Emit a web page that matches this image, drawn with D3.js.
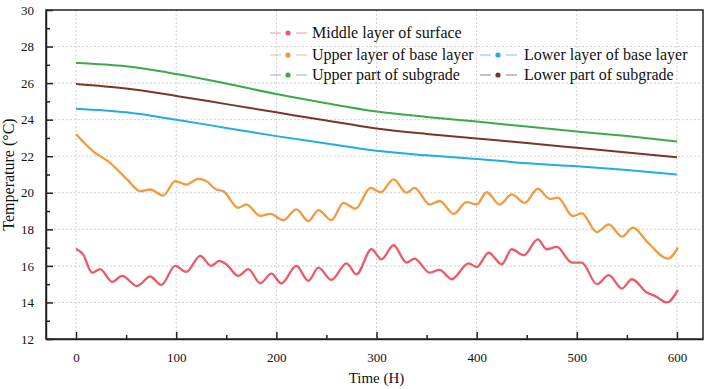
<!DOCTYPE html>
<html>
<head>
<meta charset="utf-8">
<script src="https://cdn.jsdelivr.net/npm/d3@7"></script>
<style>
  body { margin: 0; background: #fff; }
  svg text { font-family: "Liberation Serif", "Times New Roman", Times, serif !important; fill: #111; }
</style>
</head>
<body>
<div id="chart"></div>
<script>
// series names / colours
var names = ["Middle layer of surface", "Upper layer of base layer", "Lower layer of base layer",
             "Upper part of subgrade", "Lower part of subgrade"];
var colors = ["#ec5a68", "#f29a3d", "#22ace4", "#3aaa4b", "#7b3528"];

// Middle layer of surface
var surfT = [0, 7, 16, 24, 36, 46, 61, 74, 85, 99, 110, 124, 135, 143, 150, 162, 172, 184, 195, 205, 220, 232, 242, 255, 270, 280,
             295, 305, 317, 330, 338, 353, 363, 375, 392, 400, 412, 425, 435, 447, 461, 470, 480, 495, 505, 520, 532, 545, 555, 570, 578, 590, 601];
var surfV = [16.94, 16.63, 15.63, 15.82, 15.13, 15.45, 14.9, 15.42, 14.96, 16.0, 15.67, 16.55, 16.0, 16.27, 16.09, 15.45, 15.82, 15.05, 15.58, 15.04, 16.0, 15.18, 15.9, 15.23, 16.14, 15.54,
             16.91, 16.36, 17.13, 16.18, 16.4, 15.63, 15.78, 15.27, 16.14, 15.94, 16.72, 16.09, 16.91, 16.58, 17.45, 16.91, 17.04, 16.18, 16.18, 15.0, 15.49, 14.76, 15.27, 14.54, 14.36, 14.0, 14.69];

// Upper layer of base layer
var baseUT = [0, 17, 34, 51, 64, 74, 87, 99, 110, 122, 130, 140, 147, 162, 170, 184, 194, 207, 220, 232, 242, 255, 267, 279, 294, 304,
              317, 330, 338, 353, 363, 377, 390, 400, 410, 423, 435, 448, 461, 473, 481, 496, 505, 520, 532, 545, 556, 571, 591, 601];
var baseUV = [23.2, 22.27, 21.64, 20.73, 20.09, 20.18, 19.85, 20.64, 20.45, 20.76, 20.64, 20.18, 20.09, 19.18, 19.36, 18.73, 18.85, 18.5, 19.09, 18.45, 19.05, 18.5, 19.45, 19.13, 20.27, 20.03,
              20.73, 20.0, 20.27, 19.36, 19.55, 18.85, 19.49, 19.36, 20.03, 19.36, 19.91, 19.45, 20.22, 19.67, 19.73, 18.73, 18.87, 17.85, 18.27, 17.6, 18.09, 17.27, 16.4, 17.0];

// smooth deep layers
var deepT = [0, 50, 100, 150, 200, 250, 300, 350, 400, 450, 500, 550, 600];
var baseLV = [24.6, 24.4, 24.0, 23.55, 23.1, 22.7, 22.3, 22.05, 21.85, 21.62, 21.45, 21.25, 21.0];
var subUV = [27.1, 26.92, 26.5, 25.98, 25.4, 24.9, 24.45, 24.15, 23.9, 23.62, 23.35, 23.1, 22.8];
var subLV = [25.95, 25.7, 25.3, 24.85, 24.4, 23.95, 23.52, 23.22, 22.97, 22.72, 22.46, 22.2, 21.95];

var xTicks = [0, 100, 200, 300, 400, 500, 600];
var yTicks = [12, 14, 16, 18, 20, 22, 24, 26, 28, 30];

function zip(ts, vs) {
  return ts.map(function (t, i) { return {t: t, v: vs[i]}; });
}
var series = [zip(surfT, surfV), zip(baseUT, baseUV), zip(deepT, baseLV), zip(deepT, subUV), zip(deepT, subLV)];

const FONT = "'Liberation Serif', 'Times New Roman', serif";
const margin = {top: 10, right: 10, bottom: 50, left: 46},
    width = 713 - margin.left - margin.right,
    height = 389 - margin.top - margin.bottom;

const svg = d3.select("#chart").append("svg")
    .attr("width", 713).attr("height", 389)
    .append("g")
    .attr("transform", `translate(${margin.left},${margin.top})`);

const x = d3.scaleLinear().domain([-30, 626]).range([0, width]);
const y = d3.scaleLinear().domain([12, 30]).range([height, 0]);

// grid
svg.append("g").selectAll("line").data(xTicks).enter().append("line")
    .attr("x1", d => x(d)).attr("x2", d => x(d)).attr("y1", 0).attr("y2", height)
    .attr("stroke", "#cfcfcf").attr("stroke-width", 1).attr("stroke-dasharray", "2,2");
svg.append("g").selectAll("line").data(yTicks.slice(1, -1)).enter().append("line")
    .attr("x1", 0).attr("x2", width).attr("y1", d => y(d)).attr("y2", d => y(d))
    .attr("stroke", "#cfcfcf").attr("stroke-width", 1).attr("stroke-dasharray", "2,2");

// lines
const line = d3.line().x(d => x(d.t)).y(d => y(d.v)).curve(d3.curveMonotoneX);
series.forEach(function (s, i) {
  svg.append("path").datum(s)
      .attr("fill", "none")
      .attr("stroke", colors[i])
      .attr("stroke-width", i < 2 ? 2.3 : 2)
      .attr("stroke-linejoin", "round")
      .attr("d", line);
});

// frame
svg.append("rect").attr("width", width).attr("height", height)
    .attr("fill", "none").attr("stroke", "#222").attr("stroke-width", 1.5);

// axes (ticks inside)
svg.append("g").attr("transform", `translate(0,${height})`)
    .call(d3.axisBottom(x).tickValues(xTicks).tickSizeInner(-7).tickSizeOuter(0).tickPadding(14));
svg.append("g").attr("transform", `translate(0,${height})`)
    .call(d3.axisBottom(x).tickValues(d3.range(50, 600, 100)).tickSizeInner(-4).tickSizeOuter(0).tickFormat(""))
    .select(".domain").remove();
svg.append("g")
    .call(d3.axisLeft(y).tickValues(yTicks).tickSizeInner(-7).tickSizeOuter(0).tickPadding(12));
svg.append("g")
    .call(d3.axisLeft(y).tickValues(d3.range(13, 30, 2)).tickSizeInner(-4).tickSizeOuter(0).tickFormat(""))
    .select(".domain").remove();
svg.selectAll(".domain").attr("stroke", "#222").attr("stroke-width", 1.5);
svg.selectAll(".tick line").attr("stroke", "#222").attr("stroke-width", 1.5);
svg.selectAll("g").attr("font-family", FONT);
svg.selectAll(".tick text").style("font-family", FONT).style("font-size", "13px").attr("fill", "#222");

// axis titles
svg.append("text").attr("x", x(300)).attr("y", height + 44)
    .attr("text-anchor", "middle").style("font-family", FONT).style("font-size", "15px").text("Time (H)");
svg.append("text").attr("transform", `translate(${-32},${height / 2}) rotate(-90)`)
    .attr("text-anchor", "middle").style("font-family", FONT).style("font-size", "16px").text("Temperature (°C)");

// legend
var legPos = [[224, 23], [224, 45], [434, 45], [224, 65], [434, 65]];
var leg = svg.selectAll(".leg").data(names).enter().append("g")
    .attr("class", "leg")
    .attr("transform", (d, i) => `translate(${legPos[i][0]},${legPos[i][1]})`);
leg.append("line").attr("x1", 0).attr("x2", 11).attr("y1", 0).attr("y2", 0)
    .attr("stroke", (d, i) => colors[i]).attr("stroke-opacity", 0.5).attr("stroke-width", 1.3);
leg.append("line").attr("x1", 26).attr("x2", 37).attr("y1", 0).attr("y2", 0)
    .attr("stroke", (d, i) => colors[i]).attr("stroke-opacity", 0.5).attr("stroke-width", 1.3);
leg.append("circle").attr("cx", 18).attr("cy", 0).attr("r", 2.6).attr("fill", (d, i) => colors[i]);
leg.append("text").attr("x", (d, i) => (i == 2 || i == 4) ? 44 : 42).attr("y", 5)
    .style("font-family", FONT).style("font-size", "16px").text(d => d);
</script>
</body>
</html>
